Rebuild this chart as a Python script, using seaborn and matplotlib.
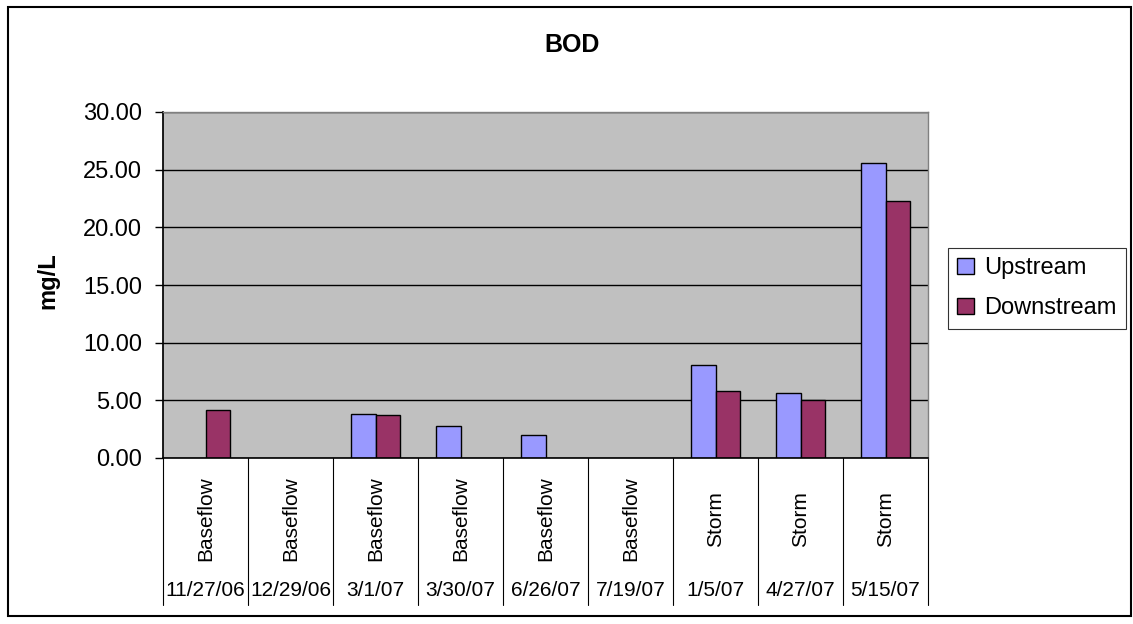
import numpy as np
import pandas as pd
import matplotlib
matplotlib.use("Agg")
import matplotlib.pyplot as plt
import matplotlib.transforms as mtransforms
from matplotlib.patches import Rectangle
import seaborn as sns

# Sampling events
dates = ["11/27/06", "12/29/06", "3/1/07", "3/30/07", "6/26/07",
         "7/19/07", "1/5/07", "4/27/07", "5/15/07"]
flow_types = ["Baseflow", "Baseflow", "Baseflow", "Baseflow", "Baseflow",
              "Baseflow", "Storm", "Storm", "Storm"]

# BOD concentration (mg/L); NaN = not sampled
upstream = [np.nan, np.nan, 3.84, 2.79, 2.03, np.nan, 8.08, 5.64, 25.6]
downstream = [4.16, np.nan, 3.69, np.nan, np.nan, np.nan, 5.81, 5.06, 22.27]

series_names = ["Upstream", "Downstream"]
palette = {"Upstream": "#9999FF", "Downstream": "#993366"}

df = pd.DataFrame({
    "event": dates * 2,
    "site": ["Upstream"] * len(dates) + ["Downstream"] * len(dates),
    "bod": upstream + downstream,
})

sns.set_theme(style="white")
plt.rcParams["font.family"] = ["Liberation Sans", "DejaVu Sans"]
plt.rcParams["text.color"] = "black"
plt.rcParams["axes.labelcolor"] = "black"
plt.rcParams["xtick.color"] = "black"
plt.rcParams["ytick.color"] = "black"

W, H = 1133, 624
fig = plt.figure(figsize=(W / 100, H / 100), dpi=100)
ax = fig.add_axes([163 / W, 1 - 458 / H, (928 - 163) / W, (458 - 112) / H])

sns.barplot(data=df, x="event", y="bod", hue="site", hue_order=series_names,
            palette=palette, order=dates, width=0.58, edgecolor="black",
            linewidth=1.0, saturation=1, ax=ax, legend=True)

ax.set_facecolor("#C0C0C0")
ax.set_ylim(0, 30)
ax.set_xlim(-0.5, len(dates) - 0.5)
yticks = np.arange(0, 31, 5)
ax.set_yticks(yticks)
ax.set_yticklabels([f"{v:.2f}" for v in yticks], fontsize=17)
ax.yaxis.grid(True, color="black", linewidth=1.0)
ax.set_axisbelow(True)
ax.tick_params(axis="y", left=True, length=6, width=1, color="black", pad=9)
ax.tick_params(axis="x", bottom=False, labelbottom=False)
ax.set_xlabel("")
ax.set_ylabel("")
for side in ["right", "top"]:
    ax.spines[side].set_color("#808080")
    ax.spines[side].set_linewidth(1)
ax.spines["left"].set_color("black")
ax.spines["bottom"].set_color("black")
ax.spines["bottom"].set_linewidth(1.2)

# Two-level category axis below the plot
trans = mtransforms.blended_transform_factory(ax.transData, ax.transAxes)
plot_h = 458 - 112
axis_drop = -(605 - 458) / plot_h
for i in range(len(dates) + 1):
    ax.plot([i - 0.5, i - 0.5], [0, axis_drop], transform=trans,
            color="black", linewidth=0.8, clip_on=False)
for i, (d, f) in enumerate(zip(dates, flow_types)):
    ax.text(i, -(519 - 458) / plot_h, f, transform=trans, rotation=90,
            ha="center", va="center", fontsize=15)
    ax.text(i, -(590 - 458) / plot_h, d, transform=trans,
            ha="center", va="center", fontsize=15)

# Legend
leg = ax.legend(loc="upper left", bbox_to_anchor=(948 / W, 1 - 248 / H),
                bbox_transform=fig.transFigure, frameon=True, fontsize=17,
                fancybox=False, handlelength=0.7, handleheight=0.7,
                handletextpad=0.45, borderpad=0.4, labelspacing=0.75,
                borderaxespad=0)
leg.get_frame().set_edgecolor("black")
leg.get_frame().set_linewidth(0.8)
for h in leg.legend_handles:
    h.set_edgecolor("black")
    h.set_linewidth(1.0)

fig.text(572 / W, 1 - 45 / H, "BOD", ha="center", va="center",
         fontsize=18, fontweight="bold")
fig.text(48 / W, 1 - 281 / H, "mg/L", ha="center", va="center",
         rotation=90, fontsize=17, fontweight="bold")

# Chart border
fig.patches.append(Rectangle((8 / W, 8 / H), 1 - 10 / W, 1 - 15 / H,
                             transform=fig.transFigure, fill=False,
                             edgecolor="black", linewidth=1.5))

fig.savefig("out.png", dpi=100)
